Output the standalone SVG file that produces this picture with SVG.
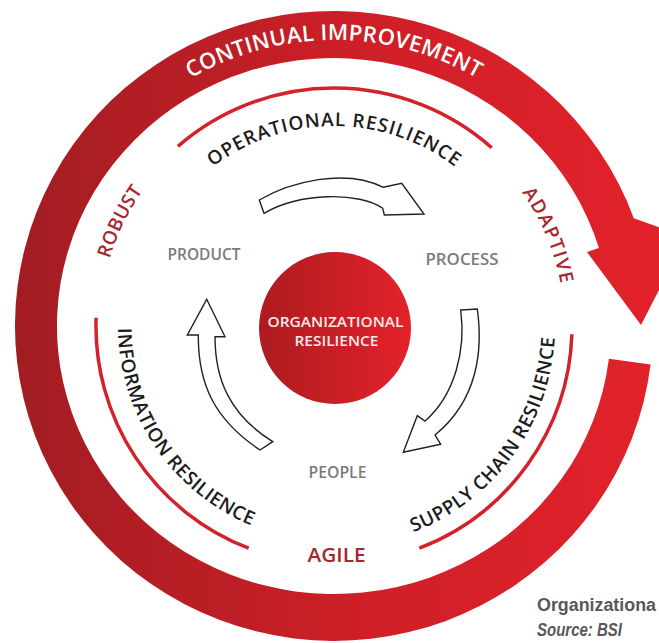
<svg xmlns="http://www.w3.org/2000/svg" width="659" height="643" viewBox="0 0 659 643">
<defs>
<linearGradient id="bandGrad" x1="0" y1="0" x2="1" y2="0">
<stop offset="0" stop-color="#a11d22"/>
<stop offset="0.5" stop-color="#cd1f27"/>
<stop offset="1" stop-color="#e3222b"/>
</linearGradient>
<linearGradient id="coreGrad" x1="0" y1="0" x2="1" y2="0">
<stop offset="0" stop-color="#ad1b20"/>
<stop offset="1" stop-color="#e4222a"/>
</linearGradient>
<path id="ciPath" d="M86.3,183 A286 286 0 0 1 581.7,183"/>
<path id="opPath" d="M146.1,257.6 A200 200 0 0 1 521.9,257.6"/>
<path id="robustPath" d="M103.6,366.6 A233 233 0 0 1 224.1,119.4"/>
<path id="adaptivePath" d="M449.5,125.9 A233 233 0 0 1 558.1,381.9"/>
<path id="infoPath" d="M128.6,259.3 A216 216 0 0 0 318.9,541.5"/>
<path id="supplyPath" d="M341.7,546.9 A221 221 0 0 0 546.4,265.1"/>
<style>
.lbl { font-family: "Open Sans", "Liberation Sans", Arial, sans-serif; font-weight: 600; }
.white { fill: #ffffff; font-size: 22px; }
.dark { fill: #1c1c1c; font-size: 19px; }
.red { fill: #a8262d; font-size: 19px; }
.gray { fill: #7b7b7b; font-size: 15.5px; }
.core { fill: #fbeaea; font-size: 15px; }
.arc { fill: none; stroke: #d4222a; stroke-width: 3.5; }
.harrow { fill: #ffffff; stroke: #222222; stroke-width: 1.4; stroke-linejoin: miter; }
.cap { font-family: "Liberation Sans", Arial, sans-serif; font-weight: bold; fill: #58585a; font-size: 18px; }
</style>
</defs>
<rect width="659" height="643" fill="#ffffff"/>

<g id="continual-improvement">
<path d="M608.9,358.7 L650.6,364.4 A319 315 0 1 1 633.8,218.3 L672,232 L676,257 L641,325 L587,252 L599,248.1 A277 268 0 1 0 608.9,358.7 Z" fill="url(#bandGrad)"/>
<text class="lbl white"><textPath href="#ciPath" startOffset="50%" text-anchor="middle" textLength="300" lengthAdjust="spacing">CONTINUAL IMPROVEMENT</textPath></text>
</g>

<g id="operational-resilience">
<path class="arc" d="M177.9,146.4 A238 238 0 0 1 491.7,147.7"/>
<text class="lbl dark"><textPath href="#opPath" startOffset="50%" text-anchor="middle" textLength="260" lengthAdjust="spacing">OPERATIONAL RESILIENCE</textPath></text>
</g>

<g id="information-resilience">
<path class="arc" d="M248.7,548.2 A238 238 0 0 1 96.1,317.7"/>
<text class="lbl dark"><textPath href="#infoPath" startOffset="50%" text-anchor="middle" textLength="252" lengthAdjust="spacing">INFORMATION RESILIENCE</textPath></text>
</g>

<g id="supply-chain-resilience">
<path class="arc" d="M571.9,334.3 A238 238 0 0 1 419.3,548.2"/>
<text class="lbl dark"><textPath href="#supplyPath" startOffset="50%" text-anchor="middle" textLength="254" lengthAdjust="spacing">SUPPLY CHAIN RESILIENCE</textPath></text>
</g>

<g id="robust">
<text class="lbl red"><textPath href="#robustPath" startOffset="50%" text-anchor="middle" textLength="76" lengthAdjust="spacing">ROBUST</textPath></text>
</g>
<g id="adaptive">
<text class="lbl red"><textPath href="#adaptivePath" startOffset="50%" text-anchor="middle" textLength="100" lengthAdjust="spacing">ADAPTIVE</textPath></text>
</g>
<g id="agile">
<text class="lbl red" x="336.5" y="562" text-anchor="middle" font-size="20" textLength="58" lengthAdjust="spacingAndGlyphs">AGILE</text>
</g>

<g id="organizational-resilience">
<circle cx="335" cy="328" r="76" fill="url(#coreGrad)"/>
<text class="lbl core" x="335.5" y="327" text-anchor="middle" textLength="136" lengthAdjust="spacingAndGlyphs">ORGANIZATIONAL</text>
<text class="lbl core" x="336.5" y="346" text-anchor="middle" textLength="84" lengthAdjust="spacingAndGlyphs">RESILIENCE</text>
</g>

<g id="product">
<text class="lbl gray" x="204" y="260" text-anchor="middle" textLength="73" lengthAdjust="spacingAndGlyphs">PRODUCT</text>
</g>
<g id="process">
<text class="lbl gray" x="462" y="265" text-anchor="middle" textLength="73" lengthAdjust="spacingAndGlyphs">PROCESS</text>
</g>
<g id="people">
<text class="lbl gray" x="337.5" y="478" text-anchor="middle" textLength="58" lengthAdjust="spacingAndGlyphs">PEOPLE</text>
</g>

<g id="connectors">
<path class="harrow" d="M259.3,200 C290,182 345,168 383.3,187.3 L401.7,183.3 L424,214 L384.3,215 L382.7,208.3 C360,192 300,192 264,213.3 Z"/>
<path class="harrow" d="M460.7,310 L477.3,309 C483,350 478,400 435,435 L440.7,444.3 L403.3,452.3 L417.3,415.7 L425,421 C455,395 466,350 460.7,310 Z"/>
<path class="harrow" d="M206.7,299.3 L225,336.7 L215,336.7 C215,380 230,415 272.7,441.7 L260,450 C215,420 198,385 198.3,335 L187.3,335 Z"/>
</g>

<g id="caption">
<text class="cap" x="537" y="611" textLength="119" lengthAdjust="spacingAndGlyphs">Organizationa</text>
<text class="cap" x="537" y="636" font-style="italic" textLength="85" lengthAdjust="spacingAndGlyphs">Source: BSI</text>
</g>
</svg>
